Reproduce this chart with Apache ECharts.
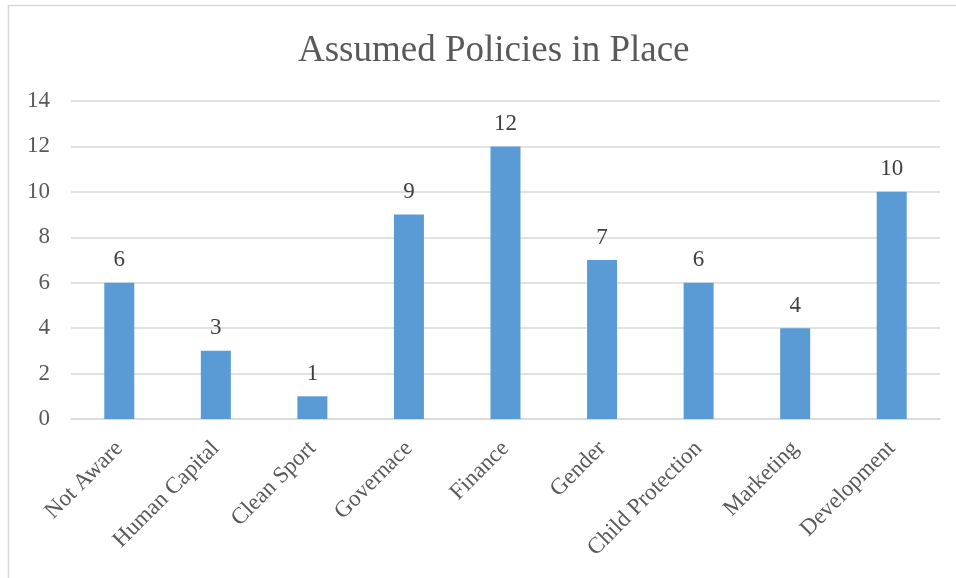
<!DOCTYPE html>
<html>
<head>
<meta charset="utf-8">
<script src="https://cdn.jsdelivr.net/npm/echarts@6/dist/echarts.min.js"></script>
<style>
  html, body { margin: 0; padding: 0; background: #fff; }
  #chart { width: 956px; height: 578px; }
</style>
</head>
<body>
<div id="chart"></div>
<script>
const categories = ['Not Aware', 'Human Capital', 'Clean Sport', 'Governace', 'Finance', 'Gender', 'Child Protection', 'Marketing', 'Development']
const values = [6, 3, 1, 9, 12, 7, 6, 4, 10]

const serif = '"Liberation Serif", "Times New Roman", serif'
const chart = echarts.init(document.getElementById('chart'))

const option = {
  backgroundColor: '#fff',
  animation: false,
  title: {
    text: 'Assumed Policies in Place',
    left: 293,
    top: 28,
    textStyle: { fontFamily: serif, fontSize: 37, fontWeight: 'normal', color: '#595959' }
  },
  graphic: [
    {
      type: 'rect',
      shape: { x: 8.5, y: 5.5, width: 1200, height: 1200 },
      style: { fill: 'none', stroke: '#d9d9d9', lineWidth: 1.5 },
      silent: true
    }
  ],
  grid: {
    left: 71,
    right: 16,
    top: 101,
    bottom: 159
  },
  xAxis: {
    type: 'category',
    data: categories,
    axisLine: { lineStyle: { color: '#d9d9d9', width: 1.5 } },
    axisTick: { show: false },
    axisLabel: {
      rotate: 45,
      interval: 0,
      margin: 26,
      fontFamily: serif,
      fontSize: 23,
      color: '#595959'
    }
  },
  yAxis: {
    type: 'value',
    min: 0,
    max: 14,
    interval: 2,
    axisLine: { show: false },
    axisTick: { show: false },
    splitLine: { lineStyle: { color: '#d9d9d9', width: 1.5 } },
    axisLabel: {
      margin: 21,
      fontFamily: serif,
      fontSize: 23,
      color: '#595959'
    }
  },
  series: [
    {
      type: 'bar',
      data: values,
      barWidth: 30,
      itemStyle: { color: '#5b9bd5' },
      label: {
        show: true,
        position: 'top',
        distance: 11,
        fontFamily: serif,
        fontSize: 23,
        color: '#404040'
      }
    }
  ]
}

chart.setOption(option)
</script>
</body>
</html>
